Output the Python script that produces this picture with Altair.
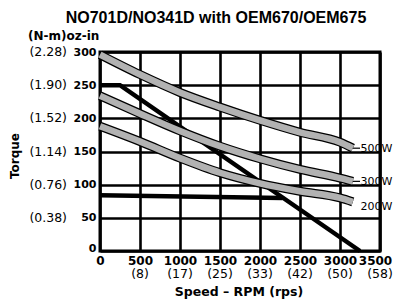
import altair as alt
import pandas as pd

# ---- data ----
speed = [0, 500, 1000, 1500, 2000, 2500, 3000, 3160]
t500 = [296, 266, 239, 217, 197, 179, 164, 155]
t300 = [234, 207, 181, 158, 139, 123, 110, 105]
t200 = [188, 165, 140, 118, 102, 90, 80, 74]

peak_speed = [0, 250, 3250]
peak_torque = [250, 250, 0]
cont_speed = [0, 2280]
cont_torque = [84, 80]

x_ticks = [0, 500, 1000, 1500, 2000, 2500, 3000, 3500]
rps_labels = ["", "(8)", "(17)", "(25)", "(33)", "(42)", "(50)", "(58)"]
y_ticks = [0, 50, 100, 150, 200, 250, 300]
nm_labels = ["", "(0.38)", "(0.76)", "(1.14)", "(1.52)", "(1.90)", "(2.28)"]

series_names = ["500W", "300W", "200W"]
label_speed = [3255, 3255, 3255]
label_torque = [154, 104, 66]
leader_from = [3160, 3160]
leader_to = [3250, 3250]
leader_torque = [155, 105]

title_text = "NO701D/NO341D with OEM670/OEM675"

# ---- tables ----
curves = pd.DataFrame(
    [{"speed": s, "torque": v, "series": "500W"} for s, v in zip(speed, t500)]
    + [{"speed": s, "torque": v, "series": "300W"} for s, v in zip(speed, t300)]
    + [{"speed": s, "torque": v, "series": "200W"} for s, v in zip(speed, t200)]
)
black = pd.DataFrame(
    [{"speed": s, "torque": v, "k": "peak"} for s, v in zip(peak_speed, peak_torque)]
    + [{"speed": s, "torque": v, "k": "cont"} for s, v in zip(cont_speed, cont_torque)]
)
xlab = pd.DataFrame({"speed": x_ticks, "lab": rps_labels})
ylab = pd.DataFrame({"torque": y_ticks, "lab": nm_labels})
labels = pd.DataFrame({"speed": label_speed, "torque": label_torque, "lab": series_names})
leaders = pd.DataFrame({"s1": leader_from, "s2": leader_to, "torque": leader_torque})

XS = alt.Scale(domain=[0, 3500], nice=False, zero=False)
YS = alt.Scale(domain=[0, 300], nice=False, zero=False)

AX = alt.Axis(values=x_ticks, format="d", title=None, grid=True, ticks=False, domain=False,
              labelFont="DejaVu Sans", labelFontWeight="bold", labelFontSize=12,
              labelColor="black", labelPadding=4, labelFlush=False, labelOverlap=False,
              labelOffset={"condition": {"test": "datum.value == 3500", "value": -5}, "value": 0},
              gridColor="black", gridWidth=2.6, gridOpacity=1)
AY = alt.Axis(values=y_ticks, format="d", title=None, grid=True, ticks=False, domain=False,
              labelFont="DejaVu Sans", labelFontWeight="bold", labelFontSize=11,
              labelColor="black", labelPadding=4, labelFlush=False, labelOverlap=False,
              labelOffset={"condition": {"test": "datum.value == 0", "value": -3}, "value": 0},
              gridColor="black", gridWidth=2.6, gridOpacity=1)

W, H = 280, 199


def X(f):
    return alt.X(f, scale=XS, axis=AX, title=None)


def Y(f):
    return alt.Y(f, scale=YS, axis=AY, title=None)


blk = alt.Chart(black).mark_line(color="black", strokeWidth=4.5, strokeCap="butt").encode(
    x=X("speed:Q"), y=Y("torque:Q"), detail="k:N",
)

outline = alt.Chart(curves).mark_line(color="black", strokeWidth=9, strokeCap="butt",
                                      interpolate="monotone").encode(
    x=X("speed:Q"), y=Y("torque:Q"), detail="series:N",
)
fill = alt.Chart(curves).mark_line(color="#b2b2b2", strokeWidth=6.5, strokeCap="butt",
                                   interpolate="monotone").encode(
    x=X("speed:Q"), y=Y("torque:Q"), detail="series:N",
)

lead = alt.Chart(leaders).mark_rule(color="black", strokeWidth=1.2).encode(
    x=X("s1:Q"), x2="s2:Q", y=Y("torque:Q"),
)

lbl = alt.Chart(labels).mark_text(align="left", baseline="middle", font="DejaVu Sans",
                                   fontSize=11, color="black").encode(
    x=X("speed:Q"), y=Y("torque:Q"), text="lab:N",
)

xparen = alt.Chart(xlab).mark_text(align="center", baseline="alphabetic", font="DejaVu Sans",
                                    fontSize=12.5, color="black").encode(
    x=X("speed:Q"), y=alt.value(H + 27), text="lab:N",
)
yparen = alt.Chart(ylab).mark_text(align="right", baseline="middle", font="DejaVu Sans",
                                    fontSize=12.5, color="black").encode(
    x=alt.value(-33), y=Y("torque:Q"), text="lab:N",
)


def txt(s, x, y, size, weight="bold", font="DejaVu Sans", align="center", angle=0):
    kw = dict(align=align, baseline="alphabetic", font=font, fontSize=size,
              fontWeight=weight, color="black")
    if angle:
        kw["angle"] = angle
    return alt.Chart(pd.DataFrame({"t": [s]})).mark_text(**kw).encode(
        text="t:N", x=alt.value(x), y=alt.value(y))


title = txt(title_text, 116, -29, 16, font="Liberation Sans")
header = txt("(N-m)oz-in", -72, -12, 12, align="left")
xtitle = txt("Speed – RPM (rps)", 139, 244, 12.5)
ytitle = txt("Torque", -81, 104, 12, angle=270)

chart = alt.layer(
    blk, outline, fill, lead, lbl, xparen, yparen, title, header, xtitle, ytitle
).properties(
    width=W, height=H,
    autosize=alt.AutoSizeParams(type="none"),
    padding={"left": 92, "top": 44, "right": 14, "bottom": 48},
    background="white",
).configure_view(stroke="black", strokeWidth=3)

chart.save("out.html", embed_options={"renderer": "svg", "actions": False})
